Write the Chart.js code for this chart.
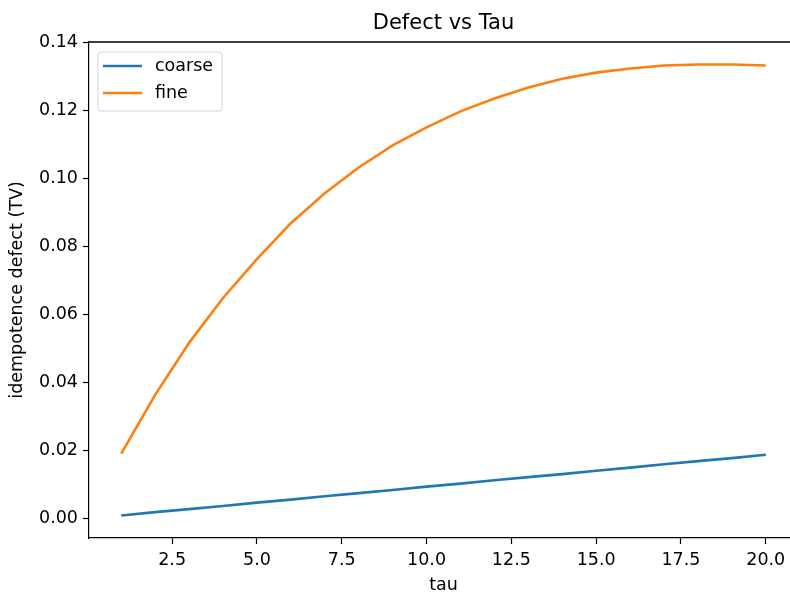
<!doctype html>
<html>

<head>
    <title>Defect vs Tau</title>
    <script src="https://cdn.jsdelivr.net/npm/chart.js"></script>
</head>

<body style="margin:0; background-color:#fff; width:790px; height:592px; overflow:hidden;">

    <div style="position:relative; width:800px; height:592px;">
        <canvas id="grafico" width="800" height="592"></canvas>
    </div>

    <script>
        // valores
        var tau = [1, 2, 3, 4, 5, 6, 7, 8, 9, 10, 11, 12, 13, 14, 15, 16, 17, 18, 19, 20];
        var coarse = [0.0009, 0.0019, 0.0028, 0.0037, 0.0047, 0.0056, 0.0066, 0.0075, 0.0084, 0.0094,
            0.0103, 0.0113, 0.0122, 0.0131, 0.0141, 0.0150, 0.0160, 0.0169, 0.0178, 0.0188];
        var fine = [0.0191, 0.0364, 0.0517, 0.0649, 0.0763, 0.0869, 0.0957, 0.1033, 0.1098, 0.1151,
            0.1198, 0.1236, 0.1268, 0.1294, 0.1312, 0.1324, 0.1333, 0.1336, 0.1336, 0.1333];
        var ticksX = [2.5, 5.0, 7.5, 10.0, 12.5, 15.0, 17.5, 20.0];
        var ticksY = [0.00, 0.02, 0.04, 0.06, 0.08, 0.10, 0.12, 0.14];

        var fonte = "'DejaVu Sans', sans-serif";

        function pontos(ys) {
            return tau.map((t, i) => ({ x: t, y: ys[i] }));
        }

        // moldura, titulo e legenda no estilo matplotlib
        var extras = {
            id: 'extras',
            afterDraw(chart) {
                var ctx = chart.ctx;
                var a = chart.chartArea;
                ctx.save();
                ctx.strokeStyle = '#000';
                ctx.lineWidth = 1.3;
                ctx.beginPath();
                ctx.moveTo(a.left, a.top);
                ctx.lineTo(a.right, a.top);
                ctx.lineTo(a.right, a.bottom);
                ctx.stroke();

                ctx.fillStyle = '#000';
                ctx.font = '21px ' + fonte;
                ctx.textAlign = 'center';
                ctx.textBaseline = 'middle';
                ctx.fillText('Defect vs Tau', (a.left + a.right) / 2, 24);

                // legenda
                var lx = a.left + 9, ly = a.top + 10;
                ctx.fillStyle = 'rgba(255,255,255,0.8)';
                ctx.strokeStyle = '#d5d5d5';
                ctx.lineWidth = 1;
                ctx.beginPath();
                ctx.roundRect(lx, ly, 124, 59, 3);
                ctx.fill();
                ctx.stroke();
                ctx.font = '17.5px ' + fonte;
                ctx.textAlign = 'left';
                chart.data.datasets.forEach((ds, i) => {
                    var y = ly + 14 + i * 27;
                    ctx.strokeStyle = ds.borderColor;
                    ctx.lineWidth = 2.6;
                    ctx.beginPath();
                    ctx.moveTo(lx + 5, y);
                    ctx.lineTo(lx + 44, y);
                    ctx.stroke();
                    ctx.fillStyle = '#000';
                    ctx.fillText(ds.label, lx + 57, y);
                });
                ctx.restore();
            }
        };

        var grafico = new Chart(document.getElementById('grafico').getContext('2d'), {
            type: 'line',
            data: {
                datasets: [{
                    label: 'coarse',
                    data: pontos(coarse),
                    borderColor: '#1f77b4',
                    borderWidth: 2.6,
                    pointRadius: 0,
                    tension: 0
                }, {
                    label: 'fine',
                    data: pontos(fine),
                    borderColor: '#ff7f0e',
                    borderWidth: 2.6,
                    pointRadius: 0,
                    tension: 0
                }]
            },
            options: {
                responsive: false,
                animation: false,
                layout: {
                    padding: { left: 0, top: 42, right: 2, bottom: 0 }
                },
                plugins: {
                    legend: { display: false },
                    tooltip: { enabled: false }
                },
                scales: {
                    x: {
                        type: 'linear',
                        min: 0.05,
                        max: 20.95,
                        afterBuildTicks: (s) => { s.ticks = ticksX.map(v => ({ value: v })); },
                        afterFit: (s) => { s.height = 54; },
                        grid: { drawOnChartArea: false, tickLength: 6, color: '#000', tickWidth: 1.2 },
                        border: { color: '#000', width: 1.2 },
                        ticks: {
                            color: '#000',
                            padding: 6,
                            maxRotation: 0,
                            font: { family: fonte, size: 17.5 },
                            callback: (v) => v.toFixed(1)
                        },
                        title: {
                            display: true,
                            text: 'tau',
                            color: '#000',
                            padding: { top: 4, bottom: -4 },
                            font: { family: fonte, size: 17.5 }
                        }
                    },
                    y: {
                        min: -0.0057,
                        max: 0.1402,
                        afterBuildTicks: (s) => { s.ticks = ticksY.map(v => ({ value: v })); },
                        afterFit: (s) => { s.width = 89; },
                        grid: { drawOnChartArea: false, tickLength: 6, color: '#000', tickWidth: 1.2 },
                        border: { color: '#000', width: 1.2 },
                        ticks: {
                            color: '#000',
                            padding: 5,
                            font: { family: fonte, size: 17.5 },
                            callback: (v) => v.toFixed(2)
                        },
                        title: {
                            display: true,
                            text: 'idempotence defect (TV)',
                            color: '#000',
                            padding: { top: 7, bottom: 0 },
                            font: { family: fonte, size: 17.5 }
                        }
                    }
                }
            },
            plugins: [extras]
        });
    </script>
</body>

</html>
